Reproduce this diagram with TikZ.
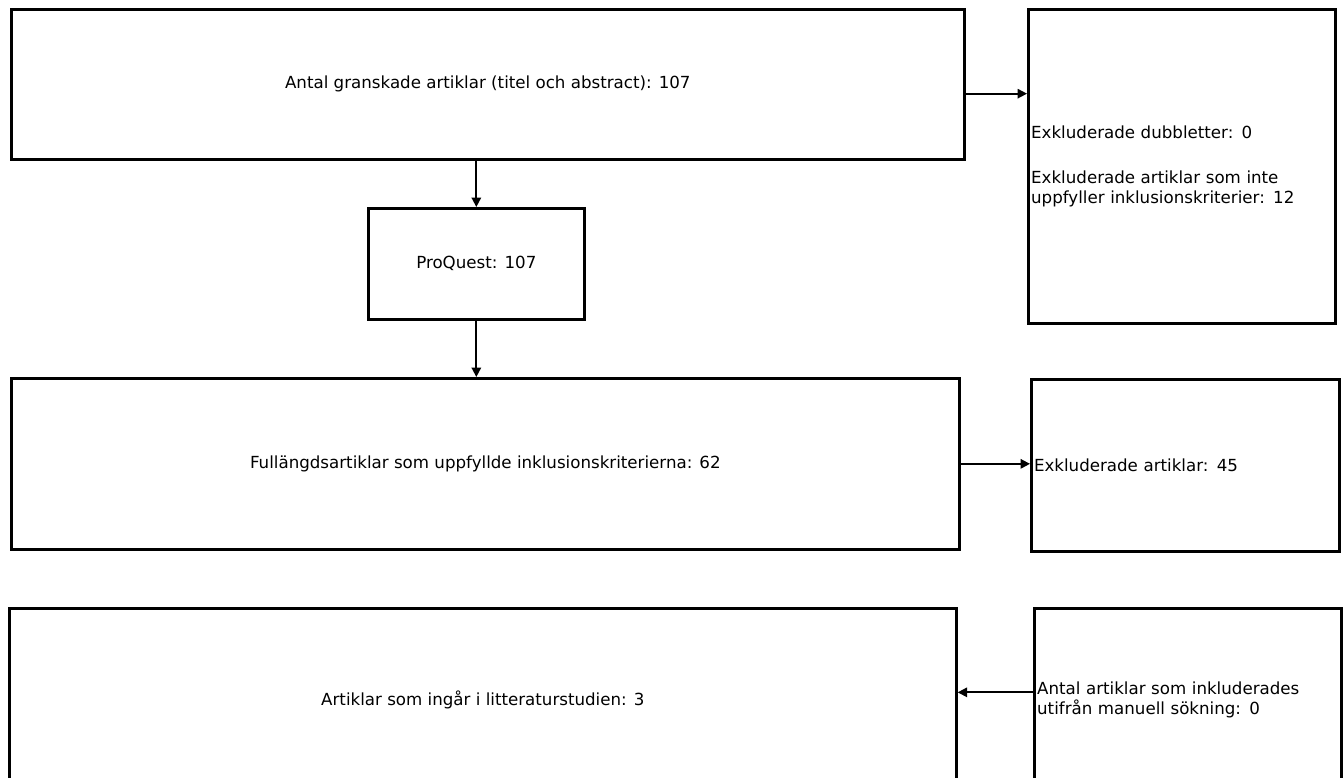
\documentclass[tikz,border=0pt]{standalone}
\usepackage{fontspec}
\setmainfont{DejaVu Sans}
\usetikzlibrary{arrows.meta,calc,positioning}

\begin{document}
\begin{tikzpicture}[
    x=0.75pt, y=-0.75pt,
    box/.style={draw, line width=2pt, align=center, font=\fontsize{12.5}{15}\selectfont,
                inner sep=2pt},
    sidebox/.style={box, align=left, text width=#1},
    arrow/.style={-{Triangle[length=7pt, width=7pt]}, line width=1.3pt},
]
\clip (0,0) rectangle (1343,778);

% Left column
\node[box, anchor=north west, minimum width=714.75pt, minimum height=112.5pt]
     (antal) at (10,8) {Antal granskade artiklar (titel och abstract): 107};
\node[box, anchor=north west, minimum width=162pt, minimum height=83.25pt]
     (proquest) at (367,207) {ProQuest: 107};
\node[box, anchor=north west, minimum width=711pt, minimum height=128.25pt]
     (full) at (10,377) {Fullängdsartiklar som uppfyllde inklusionskriterierna: 62};
\node[box, anchor=north west, minimum width=710.25pt, minimum height=138pt]
     (ingar) at (8,607) {Artiklar som ingår i litteraturstudien: 3};

% Right column
\node[sidebox=226pt, anchor=north west, minimum width=230.25pt, minimum height=235.5pt]
     (dubbl) at (1027,8) {Exkluderade dubbletter: 0\\[18.75pt]
     Exkluderade artiklar som inte\\uppfyller inklusionskriterier: 12};
\node[sidebox=227pt, anchor=north west, minimum width=231pt, minimum height=129pt]
     (exkl) at (1030,378) {Exkluderade artiklar: 45};
\node[sidebox=226pt, anchor=north west, minimum width=230.25pt, minimum height=138pt]
     (manuell) at (1033,607) {Antal artiklar som inkluderades\\utifrån manuell sökning: 0};

% Arrows
\draw[arrow] ([yshift=-7pt]antal.east) -- ([yshift=-7pt]antal.east -| dubbl.west);
\draw[arrow] (proquest.north |- antal.south) -- (proquest.north);
\draw[arrow] (proquest.south) -- (proquest.south |- full.north);
\draw[arrow] (full.east) -- (full.east -| exkl.west);
\draw[arrow] ([yshift=6pt]manuell.west) -- ([yshift=6pt]manuell.west -| ingar.east);
\end{tikzpicture}
\end{document}
